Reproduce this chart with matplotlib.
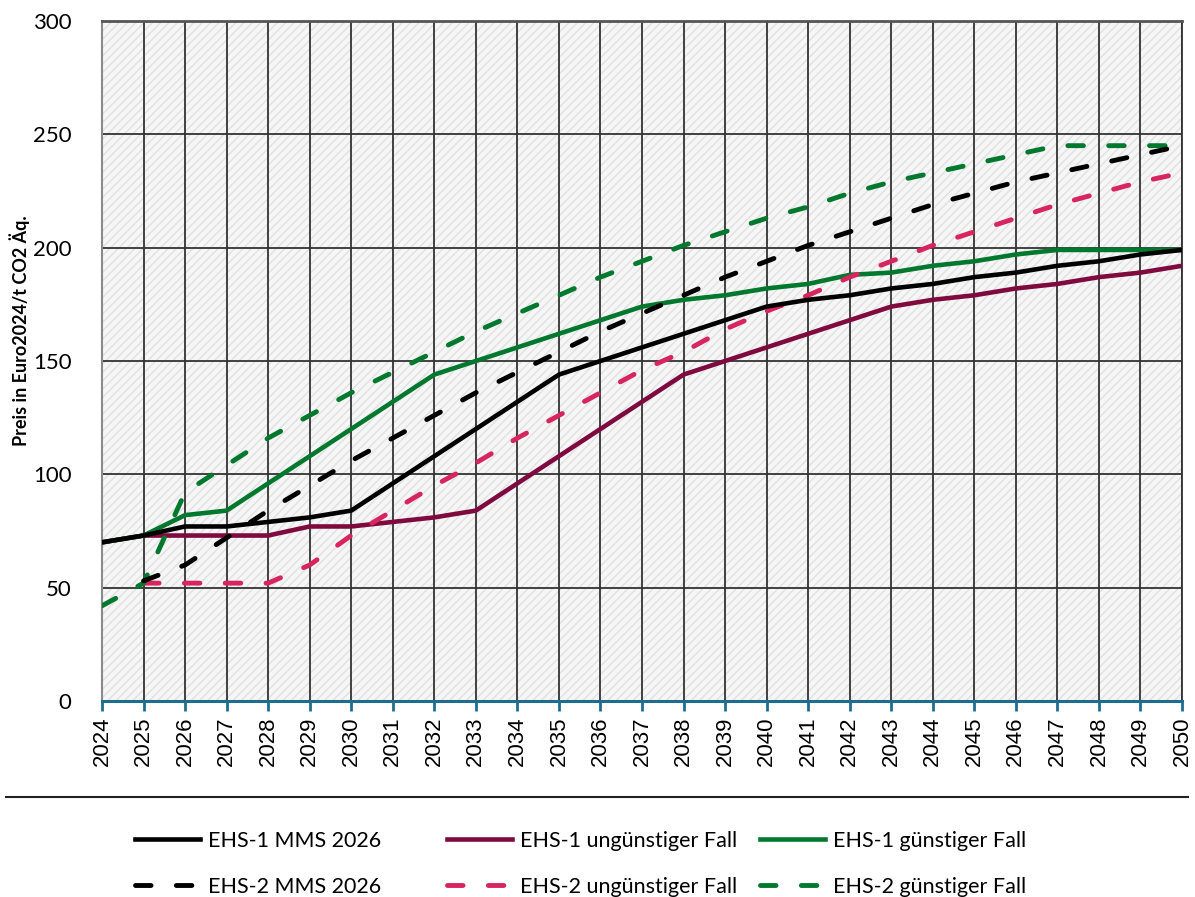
import numpy as np
import matplotlib.pyplot as plt
from matplotlib.patches import Rectangle
from matplotlib.lines import Line2D

plt.rcParams['font.family'] = ['Lato', 'DejaVu Sans']

# Jahre
years = list(range(2024, 2051))

# EHS-1 Preise (Euro2024/t CO2 Äq.)
ehs1_mms = [70, 73, 77, 77, 79, 81, 84, 96, 108, 120, 132, 144, 150, 156, 162, 168,
            174, 177, 179, 182, 184, 187, 189, 192, 194, 197, 199]
ehs1_ungunst = [70, 73, 73, 73, 73, 77, 77, 79, 81, 84, 96, 108, 120, 132, 144, 150,
                156, 162, 168, 174, 177, 179, 182, 184, 187, 189, 192]
ehs1_gunst = [70, 73, 82, 84, 96, 108, 120, 132, 144, 150, 156, 162, 168, 174, 177, 179,
              182, 184, 188, 189, 192, 194, 197, 199, 199, 199, 199]

# EHS-2 Preise
ehs2_mms = [np.nan, 53, 60, 72, 84, 95, 106, 116, 126, 136, 145, 154, 163, 171, 179, 187,
            194, 201, 207, 213, 219, 224, 229, 233, 237, 241, 245]
ehs2_ungunst = [np.nan, 52, 52, 52, 52, 60, 73, 84, 95, 105, 116, 126, 136, 146, 154, 164,
                172, 179, 187, 194, 201, 207, 213, 219, 224, 229, 233]
ehs2_gunst = [42, 52, 92, 104, 116, 126, 136, 145, 154, 163, 171, 179, 187, 194, 201, 207,
              213, 218, 224, 229, 233, 237, 241, 245, 245, 245, 245]

schwarz = '#000000'
dunkelrot = '#7f0a3f'
gruen = '#00782d'
pink = '#d6255f'
achse = '#1d6e8e'

fig = plt.figure(figsize=(11.95, 8.97), dpi=100)
ax = fig.add_axes([102 / 1195, 1 - 701 / 897, 1080 / 1195, 680 / 897])

# schraffierter Hintergrund
ax.set_facecolor('#f6f6f6')
plt.rcParams['hatch.linewidth'] = 1.1
ax.add_patch(Rectangle((0, 0), 1, 1, transform=ax.transAxes, facecolor='#f6f6f6',
                       edgecolor='#e2e2e2', hatch='////', lw=0, zorder=0))

lw_s = 3.3
lw_d = 3.5
dash = (3.2, 5.2)
l1, = ax.plot(years, ehs1_mms, color=schwarz, lw=lw_s, label='EHS-1 MMS 2026', zorder=5)
l2, = ax.plot(years, ehs1_ungunst, color=dunkelrot, lw=lw_s, label='EHS-1 ungünstiger Fall', zorder=4)
l3, = ax.plot(years, ehs1_gunst, color=gruen, lw=lw_s, label='EHS-1 günstiger Fall', zorder=4)
l4, = ax.plot(years, ehs2_mms, color=schwarz, lw=lw_d, dashes=dash, dash_capstyle='round',
              label='EHS-2 MMS 2026', zorder=5)
l5, = ax.plot(years, ehs2_ungunst, color=pink, lw=lw_d, dashes=dash, dash_capstyle='round',
              label='EHS-2 ungünstiger Fall', zorder=4)
l6, = ax.plot(years, ehs2_gunst, color=gruen, lw=lw_d, dashes=dash, dash_capstyle='round',
              label='EHS-2 günstiger Fall', zorder=4)

ax.set_xlim(2024, 2050)
ax.set_ylim(0, 300)
ax.set_xticks(years)
ax.set_xticklabels([str(y) for y in years], rotation=90, fontsize=16,
                   family=['Liberation Sans'])
ax.set_yticks(range(0, 301, 50))
ax.tick_params(axis='y', length=0, pad=22, labelsize=16)
ax.tick_params(axis='x', length=7, width=2, color=achse, pad=4)
ax.grid(True, color='#333333', lw=1.3, zorder=1)
ax.set_axisbelow(True)

ax.spines['bottom'].set_color(achse)
ax.spines['bottom'].set_linewidth(2.2)
ax.spines['bottom'].set_zorder(6)
ax.spines['top'].set_color('#555555')
ax.spines['top'].set_linewidth(2)
ax.spines['left'].set_color('#8a8a8a')
ax.spines['left'].set_linewidth(1.5)
ax.spines['right'].set_color('#333333')
ax.spines['right'].set_linewidth(1.3)

ax.set_ylabel('Preis in Euro2024/t CO2 Äq.', fontsize=13, fontweight='bold')
ax.yaxis.set_label_coords(-0.067, 0.545)

# Trennlinie über der Legende
fig.add_artist(Line2D([6 / 1195, 1188 / 1195], [1 - 797 / 897] * 2, color='#222222', lw=1.5))

# Legende in drei Spalten (feste Spaltenbreite wie in Excel)
spalten = [(l1, l4), (l2, l5), (l3, l6)]
x_start = [135, 447, 760]
for (a, b), x0 in zip(spalten, x_start):
    fig.legend(handles=[a, b], loc='upper left',
               bbox_to_anchor=(x0 / 1195, 1 - 831 / 897),
               frameon=False, fontsize=15.5, handlelength=3.0, handletextpad=0.37,
               borderpad=0, borderaxespad=0, labelspacing=1.2)

fig.savefig('out.png', dpi=100)
